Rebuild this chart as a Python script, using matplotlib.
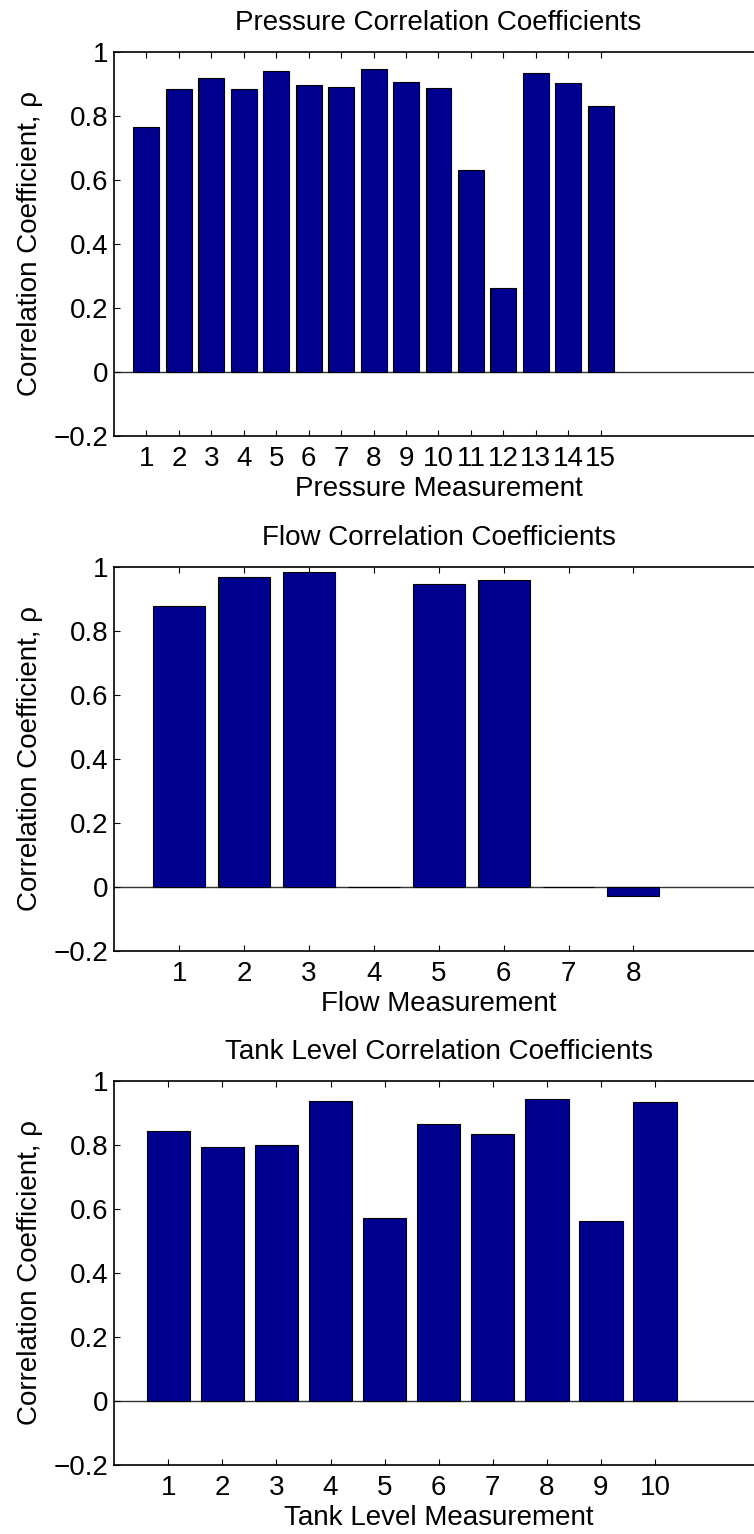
import matplotlib
matplotlib.use("Agg")
import matplotlib.pyplot as plt

plt.rcParams['font.family'] = ['Liberation Sans', 'DejaVu Sans']

# correlation coefficients for each measurement group
pressure_rho = [0.765, 0.883, 0.919, 0.883, 0.942, 0.898, 0.890, 0.946,
                0.906, 0.886, 0.631, 0.262, 0.935, 0.903, 0.832]
flow_rho = [0.878, 0.967, 0.983, 0.0, 0.947, 0.959, 0.0, -0.030]
tank_rho = [0.845, 0.793, 0.799, 0.937, 0.572, 0.866, 0.834, 0.944, 0.562, 0.933]

titles = ["Pressure Correlation Coefficients",
          "Flow Correlation Coefficients",
          "Tank Level Correlation Coefficients"]
xlabels = ["Pressure Measurement", "Flow Measurement", "Tank Level Measurement"]
xmax = [20, 10, 12]

yticks = [-0.2, 0, 0.2, 0.4, 0.6, 0.8, 1]
ytick_labels = ["\u22120.2", "0", "0.2", "0.4", "0.6", "0.8", "1"]

bar_color = "#00008F"
fs = 20

fig = plt.figure(figsize=(7.54, 15.34), dpi=100)

# axes boxes (left, bottom, width, height) - wider than the figure, right edge clipped
boxes = [(0.1512, 0.7158, 0.8607, 0.2503),
         (0.1515, 0.3802, 0.8607, 0.2503),
         (0.1515, 0.0450, 0.8607, 0.2503)]

for box, data, title, xlab, xm in zip(boxes, [pressure_rho, flow_rho, tank_rho],
                                      titles, xlabels, xmax):
    ax = fig.add_axes(box)
    x = list(range(1, len(data) + 1))
    ax.axhline(0, color="#333333", lw=1.0, zorder=1)
    ax.bar(x, data, width=0.8, color=bar_color, edgecolor="black", linewidth=0.8, zorder=2)

    ax.set_xlim(0, xm)
    ax.set_ylim(-0.2, 1)
    ax.set_xticks(x)
    ax.set_xticklabels([str(i) for i in x])
    ax.set_yticks(yticks)
    ax.set_yticklabels(ytick_labels)

    ax.tick_params(direction="in", length=4.3, width=0.8, labelsize=fs,
                   top=True, right=True)
    ax.tick_params(axis="x", pad=7.5)
    ax.tick_params(axis="y", pad=4)
    for sp in ax.spines.values():
        sp.set_linewidth(1.2)

    ax.set_title(title, fontsize=fs, pad=16)
    ax.set_xlabel(xlab, fontsize=fs)
    ax.xaxis.set_label_coords(0.5, -0.105)
    ax.set_ylabel("Correlation Coefficient, \u03c1", fontsize=fs)
    ax.yaxis.set_label_coords(-0.11, 0.5)

fig.savefig("out.png", dpi=100)
